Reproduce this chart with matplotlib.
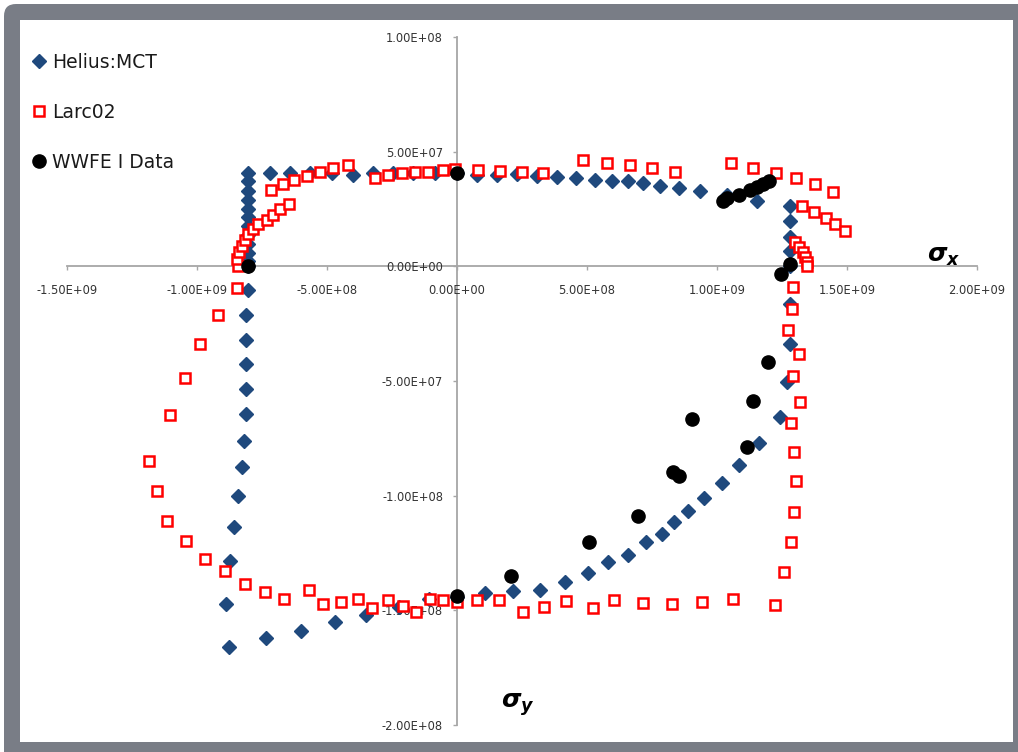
import matplotlib
matplotlib.use("Agg")
import matplotlib.pyplot as plt
from matplotlib.patches import FancyBboxPatch, Rectangle
from matplotlib.ticker import FixedLocator, FuncFormatter
import numpy as np

plt.rcParams["mathtext.fontset"] = "custom"
plt.rcParams["mathtext.it"] = "DejaVu Sans:italic:bold"
plt.rcParams["mathtext.rm"] = "DejaVu Sans:bold"
plt.rcParams["mathtext.bf"] = "DejaVu Sans:italic:bold"

# ---------------- data (x in 1e9, y in 1e8) ----------------
helius_x = [-0.804] * 12 + [-0.804, -0.812, -0.812, -0.812, -0.812, -0.812, -0.819, -0.827,
            -0.842, -0.858, -0.873, -0.888, -0.877,
            -0.735, -0.600, -0.469, -0.350, -0.223, -0.108, 0.000, 0.108, 0.215, 0.319,
            0.415, 0.504, 0.581, 0.658, 0.727, 0.788, 0.835, 0.888, 0.950, 1.019, 1.085,
            1.162, 1.242, 1.269, 1.281, 1.281,
            1.281, 1.281, 1.281, 1.281, 1.281,
            1.154, 1.038, 0.935, 0.854, 0.781, 0.715, 0.658, 0.596, 0.531, 0.458, 0.385,
            0.308, 0.231, 0.154, 0.077, 0.000, -0.085, -0.169, -0.246, -0.323, -0.400,
            -0.481, -0.565, -0.642, -0.719]
helius_y = [0.409, 0.370, 0.330, 0.291, 0.252, 0.213, 0.174, 0.135, 0.096, 0.057, 0.022, 0.0,
            -0.104, -0.213, -0.322, -0.426, -0.535, -0.643, -0.761, -0.874,
            -1.000, -1.135, -1.283, -1.474, -1.661,
            -1.622, -1.591, -1.552, -1.522, -1.487, -1.452, -1.443, -1.426, -1.417, -1.413,
            -1.378, -1.339, -1.291, -1.257, -1.204, -1.165, -1.113, -1.065, -1.009, -0.943, -0.865,
            -0.770, -0.657, -0.504, -0.339, -0.165,
            0.000, 0.065, 0.130, 0.196, 0.261,
            0.283, 0.313, 0.330, 0.343, 0.352, 0.365, 0.370, 0.374, 0.378, 0.387, 0.391,
            0.396, 0.404, 0.400, 0.400, 0.409, 0.409, 0.409, 0.409, 0.409, 0.400,
            0.409, 0.409, 0.409, 0.409]

larc_x = [-0.842, -0.846, -0.838, -0.827, -0.815, -0.804, -0.785, -0.765, -0.731, -0.708, -0.681, -0.646,
          -0.715, -0.669, -0.627, -0.577, -0.527, -0.477, -0.419, -0.315, -0.265, -0.212, -0.162,
          -0.112, -0.054, -0.008, 0.081, 0.165, 0.250, 0.331, 0.485, 0.577, 0.665, 0.750, 0.838,
          1.054, 1.138, 1.227, 1.304, 1.377, 1.446,
          1.327, 1.373, 1.419, 1.454, 1.492,
          1.300, 1.315, 1.331, 1.338, 1.346, 1.346,
          1.292, 1.288, 1.273, 1.315, 1.292, 1.319, 1.285, 1.296, 1.304, 1.296, 1.285, 1.258, 1.223,
          1.062, 0.942, 0.827, 0.715, 0.604, 0.523, 0.419, 0.335, 0.254, 0.162, 0.077, 0.000,
          -0.054, -0.104, -0.158, -0.208, -0.265, -0.327, -0.381, -0.446, -0.515, -0.569, -0.665,
          -0.738, -0.815, -0.892,
          -0.969, -1.042, -1.115, -1.154, -1.185, -1.104, -1.046, -0.988, -0.919, -0.846]
larc_y = [0.000, 0.030, 0.061, 0.087, 0.117, 0.139, 0.161, 0.183, 0.204, 0.226, 0.248, 0.270,
          0.335, 0.361, 0.378, 0.396, 0.413, 0.430, 0.443, 0.387, 0.400, 0.409, 0.413,
          0.413, 0.422, 0.426, 0.422, 0.417, 0.413, 0.409, 0.465, 0.452, 0.443, 0.430, 0.413,
          0.452, 0.430, 0.409, 0.383, 0.357, 0.326,
          0.261, 0.239, 0.209, 0.183, 0.152,
          0.104, 0.083, 0.061, 0.039, 0.017, 0.000,
          -0.091, -0.187, -0.278, -0.383, -0.478, -0.591, -0.683, -0.809, -0.935, -1.070, -1.200,
          -1.335, -1.478,
          -1.452, -1.465, -1.474, -1.470, -1.457, -1.491, -1.461, -1.487, -1.509, -1.457, -1.457,
          -1.465, -1.457, -1.452, -1.509, -1.483, -1.457, -1.491, -1.452, -1.465, -1.474, -1.413,
          -1.452, -1.422, -1.387, -1.330,
          -1.274, -1.196, -1.109, -0.978, -0.848, -0.648, -0.487, -0.339, -0.213, -0.096]

wwfe_x = [-0.804, 0.000, 1.023, 1.038, 1.085, 1.127, 1.154, 1.177, 1.200, 1.281, 1.246,
          1.196, 1.138, 0.904, 1.115, 0.831, 0.854, 0.696, 0.508, 0.208, 0.000]
wwfe_y = [0.000, 0.409, 0.287, 0.296, 0.313, 0.335, 0.348, 0.357, 0.370, 0.009, -0.035,
          -0.417, -0.587, -0.665, -0.787, -0.896, -0.913, -1.087, -1.204, -1.352, -1.439]

series_names = ["Helius:MCT", "Larc02", "WWFE I Data"]
x_ticks = [-1.5e9, -1.0e9, -0.5e9, 0.0, 0.5e9, 1.0e9, 1.5e9, 2.0e9]
y_ticks = [-2.0e8, -1.5e8, -1.0e8, -0.5e8, 0.0, 0.5e8, 1.0e8]

# ---------------- figure ----------------
W, H = 1018, 752
fig = plt.figure(figsize=(W / 100, H / 100), dpi=100)
fig.patch.set_facecolor("white")

# gray rounded frame and white inner panel (inches coordinates)
frame = FancyBboxPatch((0.04, -0.2), 10.6, (H - 4) / 100 + 0.2,
                       boxstyle="round,pad=0,rounding_size=0.12",
                       transform=fig.dpi_scale_trans, facecolor="#797d86",
                       edgecolor="none", zorder=-10)
fig.patches.append(frame)
inner = Rectangle((0.20, 0.10), 9.93, 7.22, transform=fig.dpi_scale_trans,
                  facecolor="white", edgecolor="none", zorder=-9)
fig.patches.append(inner)

ax = fig.add_axes([67 / W, 27 / H, 910 / W, 688 / H])
ax.set_facecolor("none")

hx = np.array(helius_x) * 1e9
hy = np.array(helius_y) * 1e8
lx = np.array(larc_x) * 1e9
ly = np.array(larc_y) * 1e8
wx = np.array(wwfe_x) * 1e9
wy = np.array(wwfe_y) * 1e8

ax.plot(hx, hy, linestyle="none", marker="D", ms=7, color="#1f497d",
        mec="#1f497d", label=series_names[0], zorder=3)
ax.plot(lx, ly, linestyle="none", marker="s", ms=7, mfc="white", mec="#ff0000",
        mew=1.8, label=series_names[1], zorder=4)
ax.plot(wx, wy, linestyle="none", marker="o", ms=9.5, color="black",
        label=series_names[2], zorder=5)

ax.set_xlim(-1.5e9, 2.0e9)
ax.set_ylim(-2.0e8, 1.0e8)

for s in ["top", "right"]:
    ax.spines[s].set_visible(False)
ax.spines["left"].set_position(("data", 0))
ax.spines["bottom"].set_position(("data", 0))
for s in ["left", "bottom"]:
    ax.spines[s].set_color("#a6a6a6")
    ax.spines[s].set_linewidth(1.3)
    ax.spines[s].set_zorder(1)

ax.xaxis.set_major_locator(FixedLocator(x_ticks))
ax.yaxis.set_major_locator(FixedLocator(y_ticks))
fmt = FuncFormatter(lambda v, p: f"{v:.2E}")
ax.xaxis.set_major_formatter(fmt)
ax.yaxis.set_major_formatter(fmt)
ax.tick_params(axis="both", direction="out", length=3, width=1, color="#a6a6a6",
               labelsize=8.3, labelcolor="#333333")
ax.tick_params(axis="x", pad=10)
ax.tick_params(axis="y", pad=7)
for lab in ax.get_xticklabels() + ax.get_yticklabels():
    lab.set_zorder(2)

# sigma labels
ax.text(1.87e9, 0.018e8, r"$\sigma_x$", fontsize=18,
        ha="center", va="baseline")
ax.text(0.235e9, -1.925e8, r"$\sigma_y$", fontsize=18,
        ha="center", va="baseline")

leg = ax.legend(loc="upper left", bbox_to_anchor=(31 / W, 1 - 53 / H),
                bbox_transform=fig.transFigure, frameon=False, fontsize=13.5,
                handlelength=0.8, handletextpad=0.3, borderpad=0, labelspacing=1.65,
                borderaxespad=0)
for t in leg.get_texts():
    t.set_color("#1a1a1a")

fig.savefig("out.png", dpi=100)
